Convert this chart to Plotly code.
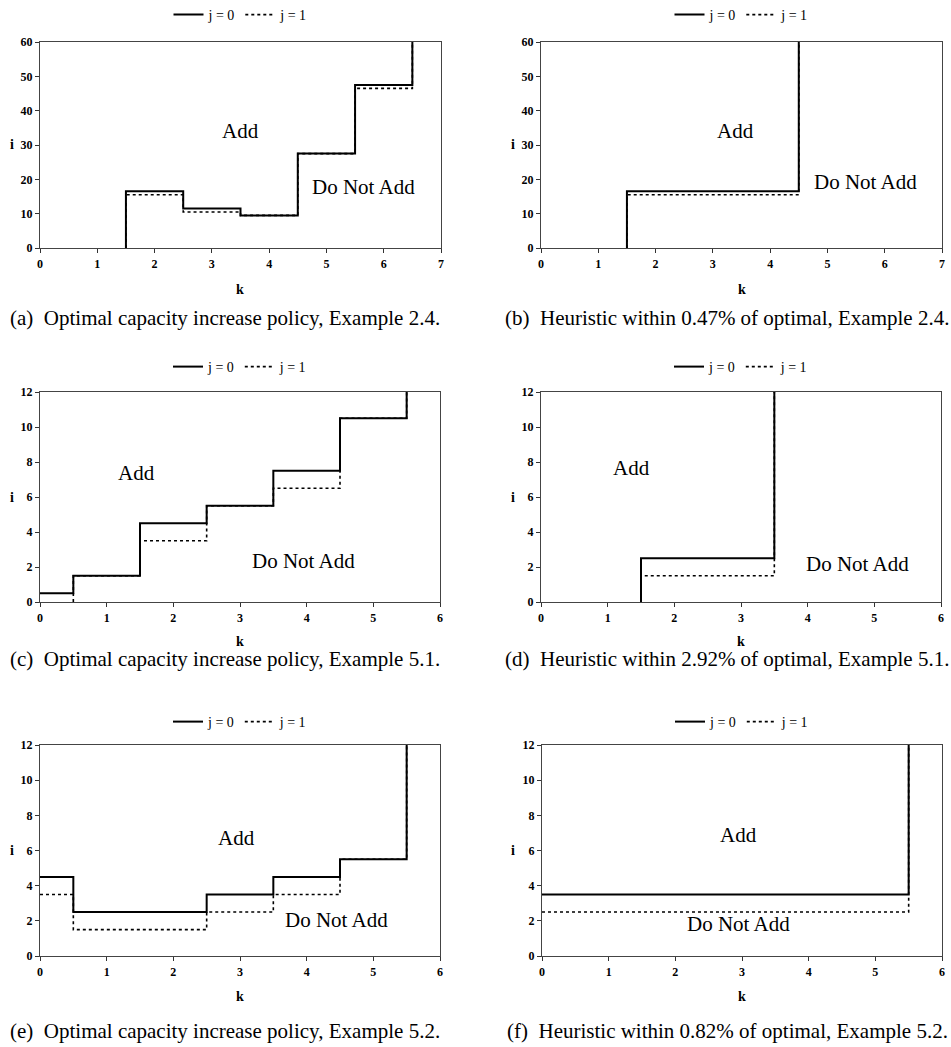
import plotly.graph_objects as go

# ---------------- data (step thresholds, drawn with line_shape='hv') ----------------
a_k = [1.5, 1.5, 2.5, 3.5, 4.5, 5.5, 6.5]
a_j0 = [0, 16.5, 11.5, 9.5, 27.5, 47.5, 60]
a_j1 = [0, 15.5, 10.5, 9.5, 27.5, 46.5, 60]

b_k = [1.5, 1.5, 4.5]
b_j0 = [0, 16.5, 60]
b_j1 = [0, 15.5, 60]

c_k = [0, 0.5, 1.5, 2.5, 3.5, 4.5, 5.5]
c_j0 = [0.5, 1.5, 4.5, 5.5, 7.5, 10.5, 12]
c_j1 = [-0.5, 1.5, 3.5, 5.5, 6.5, 10.5, 12]

d_k = [1.5, 1.5, 3.5]
d_j0 = [0, 2.5, 12]
d_j1 = [0, 1.5, 12]

e_k = [0, 0.5, 2.5, 3.5, 4.5, 5.5]
e_j0 = [4.5, 2.5, 3.5, 4.5, 5.5, 12]
e_j1 = [3.5, 1.5, 2.5, 3.5, 5.5, 12]

f_k = [0, 5.5]
f_j0 = [3.5, 12]
f_j1 = [2.5, 12]

captions = [
    "(a)  Optimal capacity increase policy, Example 2.4.",
    "(b)  Heuristic within 0.47% of optimal, Example 2.4.",
    "(c)  Optimal capacity increase policy, Example 5.1.",
    "(d)  Heuristic within 2.92% of optimal, Example 5.1.",
    "(e)  Optimal capacity increase policy, Example 5.2.",
    "(f)  Heuristic within 0.82% of optimal, Example 5.2.",
]
x_max = [7, 7, 6, 6, 6, 6]
y_max = [60, 60, 12, 12, 12, 12]
y_step = [10, 10, 2, 2, 2, 2]
add_pos = [(3.5, 34), (3.4, 34), (1.44, 7.4), (1.36, 7.65), (2.94, 6.7), (2.94, 6.9)]
dna_pos = [(5.65, 17.7), (5.67, 19.2), (3.95, 2.35), (4.74, 2.2), (4.45, 2.05), (2.94, 1.8)]

panels = [(a_k, a_j0, a_j1), (b_k, b_j0, b_j1), (c_k, c_j0, c_j1),
          (d_k, d_j0, d_j1), (e_k, e_j0, e_j1), (f_k, f_j0, f_j1)]

# ---------------- layout geometry (pixels in the 951x1047 page) ----------------
W, H = 951, 1047
# plot areas: (left, right, top, bottom)
boxes = [(40, 441, 42, 248), (541, 942, 42, 248),
         (40, 440, 392, 602), (541, 941, 392, 602),
         (40, 440, 745, 956), (542, 942, 745, 956)]
legend_y = [15, 15, 367, 367, 722, 722]
k_y = [290, 290, 641, 641, 996, 996]
cap_y = [318, 318, 659, 659, 1031, 1031]
cap_x = [225, 727, 225, 727, 225, 727]
i_x = [12, 513, 12, 513, 12, 513]

SERIF = "Liberation Serif"

def px(x):
    return x / W

def py(y):
    return 1 - y / H

fig = go.Figure()
annotations = []
layout = dict(
    width=W, height=H,
    margin=dict(l=0, r=0, t=0, b=0, pad=0, autoexpand=False),
    paper_bgcolor="white", plot_bgcolor="white",
    font=dict(family=SERIF, color="black"),
)

for n, (ks, j0, j1) in enumerate(panels):
    sfx = "" if n == 0 else str(n + 1)
    xa, ya = "x" + sfx, "y" + sfx
    leg = "legend" + sfx
    fig.add_trace(go.Scatter(x=ks, y=j0, mode="lines", line_shape="hv",
                             line=dict(color="black", width=2), name="j = 0",
                             xaxis=xa, yaxis=ya, legend=leg, hoverinfo="skip"))
    fig.add_trace(go.Scatter(x=ks, y=j1, mode="lines", line_shape="hv",
                             line=dict(color="black", width=1.6, dash="3px,3px"), name="j = 1",
                             xaxis=xa, yaxis=ya, legend=leg, hoverinfo="skip"))
    l, r, t, b = boxes[n]
    layout["xaxis" + sfx] = dict(
        domain=[px(l), px(r)], anchor=ya, range=[0, x_max[n]],
        tickmode="linear", tick0=0, dtick=1, automargin=False,
        ticks="outside", ticklen=4, tickcolor="#333",
        showline=True, linecolor="#444", linewidth=1.2, mirror=True,
        showgrid=False, zeroline=False,
        tickfont=dict(family=SERIF, size=12, weight="bold"),
    )
    layout["yaxis" + sfx] = dict(
        domain=[py(b), py(t)], anchor=xa, range=[0, y_max[n]],
        tickmode="linear", tick0=0, dtick=y_step[n], automargin=False,
        ticks="outside", ticklen=4, tickcolor="#333",
        showline=True, linecolor="#444", linewidth=1.2, mirror=True,
        showgrid=False, zeroline=False,
        tickfont=dict(family=SERIF, size=12, weight="bold"),
    )
    layout[leg] = dict(
        x=px((l + r) / 2), y=py(legend_y[n]), xanchor="center", yanchor="middle",
        orientation="h", font=dict(family=SERIF, size=14),
        bgcolor="rgba(0,0,0,0)", itemwidth=30, tracegroupgap=0,
    )
    # region labels
    annotations.append(dict(x=add_pos[n][0], y=add_pos[n][1], xref=xa, yref=ya,
                            text="Add", showarrow=False, xanchor="center", yanchor="middle",
                            font=dict(family=SERIF, size=21)))
    annotations.append(dict(x=dna_pos[n][0], y=dna_pos[n][1], xref=xa, yref=ya,
                            text="Do Not Add", showarrow=False, xanchor="center", yanchor="middle",
                            font=dict(family=SERIF, size=21)))
    # axis titles
    annotations.append(dict(x=px((l + r) / 2), y=py(k_y[n]), xref="paper", yref="paper",
                            text="k", showarrow=False, xanchor="center", yanchor="middle",
                            font=dict(family=SERIF, size=14, weight="bold")))
    annotations.append(dict(x=px(i_x[n]), y=py((t + b) / 2), xref="paper", yref="paper",
                            text="i", showarrow=False, xanchor="center", yanchor="middle",
                            font=dict(family=SERIF, size=14, weight="bold")))
    # caption
    annotations.append(dict(x=px(cap_x[n]), y=py(cap_y[n]), xref="paper", yref="paper",
                            text=captions[n], showarrow=False, xanchor="center", yanchor="middle",
                            font=dict(family=SERIF, size=21)))

layout["annotations"] = annotations
fig.update_layout(**layout)
fig.write_html(
    "out.html",
    config={"displayModeBar": False},
    post_script="document.body.style.margin='0';document.body.style.overflow='hidden';",
)
